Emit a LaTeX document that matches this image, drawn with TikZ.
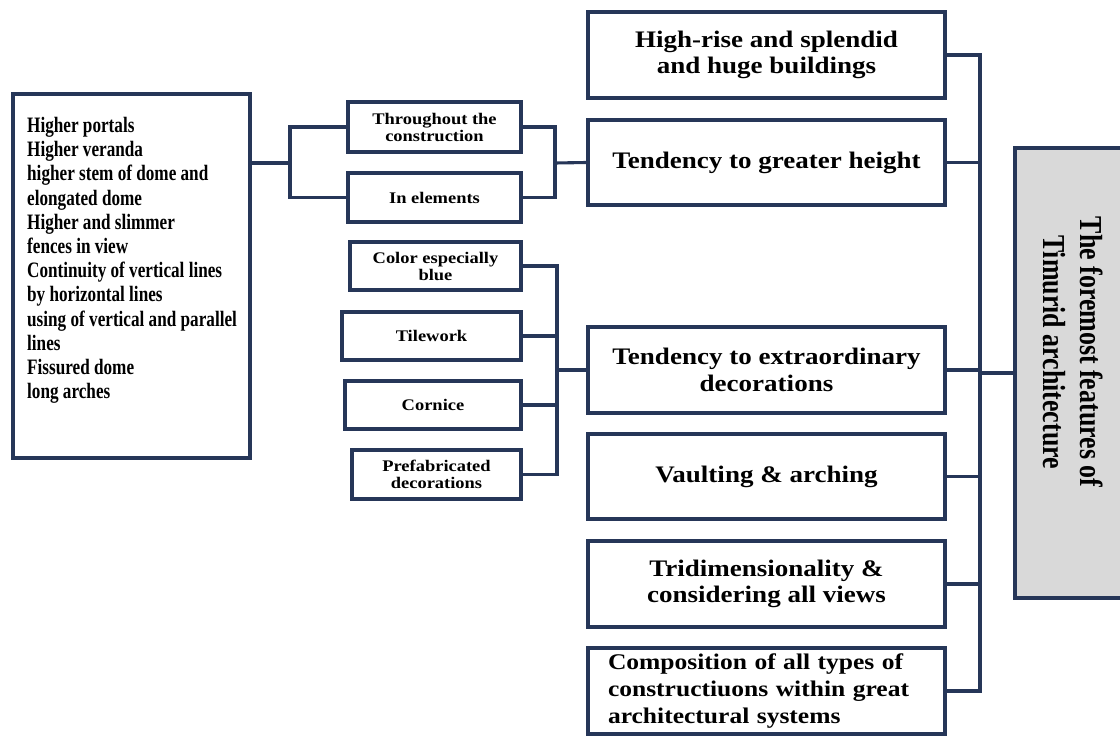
\documentclass[tikz,border=0pt]{standalone}
\usepackage{fontspec}
\setmainfont{Liberation Serif}
\newfontfamily\widef[FakeStretch=1.14]{Liberation Serif}
\newfontfamily\narrowf[FakeStretch=0.78]{Liberation Serif}
\newfontfamily\titlef[FakeStretch=0.81]{Liberation Serif}
\definecolor{navy}{RGB}{38,54,88}
\definecolor{panel}{RGB}{217,217,217}
\tikzset{
  box/.style={draw=navy, line width=3.4pt, fill=white, inner sep=0pt, align=center},
  bigbox/.style={box, minimum width=357pt, font=\widef\bfseries\fontsize{23.7}{26.5}\selectfont},
  smallbox/.style={box, font=\widef\bfseries\fontsize{16.2}{17}\selectfont},
  conn/.style={draw=navy, line width=3.1pt},
}
\begin{document}
\begin{tikzpicture}[x=1pt,y=-1pt]
\useasboundingbox (0,0) rectangle (1120,736);
% right column
\node[bigbox, minimum height=86pt] (hr) at (766.5,55) {High-rise and splendid\\and huge buildings};
\node[bigbox, minimum height=85pt] (tg) at (766.5,162.5) {Tendency to greater height};
\node[bigbox, minimum height=86pt] (dec) at (766.5,370) {Tendency to extraordinary\\decorations};
\node[bigbox, minimum height=85pt] (vault) at (766.5,476.5) {Vaulting \& arching};
\node[bigbox, minimum height=86pt] (tri) at (766.5,584) {Tridimensionality \&\\considering all views};
\node[bigbox, minimum height=86pt, text width=327pt, inner xsep=15pt, align=left, font=\widef\bfseries\fontsize{22.4}{27}\selectfont] (comp) at (766.5,691) {\hspace*{5pt}Composition of all types of\\\hspace*{5pt}constructiuons within great\\\hspace*{5pt}architectural systems};
% main panel
\node[box, fill=panel, minimum width=110pt, minimum height=450pt] (main) at (1070,373) {};
\node[rotate=-90, inner sep=0pt, align=center, font=\titlef\bfseries\fontsize{32}{37}\selectfont] (mt) at (1073,352) {The foremost features of\\Timurid architecture};
% left box
\node[box, minimum width=237pt, minimum height=364pt] (lb) at (131.5,276) {};
\node[anchor=north west, inner sep=0pt, align=left, font=\narrowf\bfseries\fontsize{22}{24.2}\selectfont] (lbt) at (27,117) {Higher portals\\Higher veranda\\higher stem of dome and\\elongated dome\\Higher and slimmer\\fences in view\\Continuity of vertical lines\\by horizontal lines\\using of vertical and parallel\\lines\\Fissured dome\\long arches};
% small boxes
\node[smallbox, minimum width=173pt, minimum height=50pt] (thr) at (434.5,127) {Throughout the\\construction};
\node[smallbox, minimum width=173pt, minimum height=49pt] (inel) at (434.5,197.5) {In elements};
\node[smallbox, minimum width=171pt, minimum height=48pt] (color) at (435.5,266) {Color especially\\blue};
\node[smallbox, minimum width=179pt, minimum height=48pt] (tile) at (431.5,336) {Tilework};
\node[smallbox, minimum width=176pt, minimum height=48pt] (corn) at (433,405) {Cornice};
\node[smallbox, minimum width=169pt, minimum height=49pt] (pref) at (436.5,474.5) {Prefabricated\\decorations};
% junctions
\coordinate (j1) at (290,163);
\coordinate (j2) at (555,163);
\coordinate (j3) at (557,370);
\coordinate (trunk) at (980,373);
% connectors left
\draw[conn] (lb.east |- j1) -- (j1);
\draw[conn] (thr.west) -| (j1);
\draw[conn] (inel.west) -| (j1);
\draw[conn] (thr.east) -| (j2);
\draw[conn] (inel.east) -| (j2);
\draw[conn] (j2) -- (tg.west);
\draw[conn] (color.east) -| (j3);
\draw[conn] (tile.east) -| (j3);
\draw[conn] (corn.east) -| (j3);
\draw[conn] (pref.east) -| (j3);
\draw[conn] (j3) -- (dec.west);
% connectors right
\draw[conn] (hr.east) -| (trunk);
\draw[conn] (tg.east) -| (trunk);
\draw[conn] (dec.east) -| (trunk);
\draw[conn] (vault.east) -| (trunk);
\draw[conn] (tri.east) -| (trunk);
\draw[conn] (comp.east) -| (trunk);
\draw[conn] (trunk) -- (main.west);
\end{tikzpicture}
\end{document}
